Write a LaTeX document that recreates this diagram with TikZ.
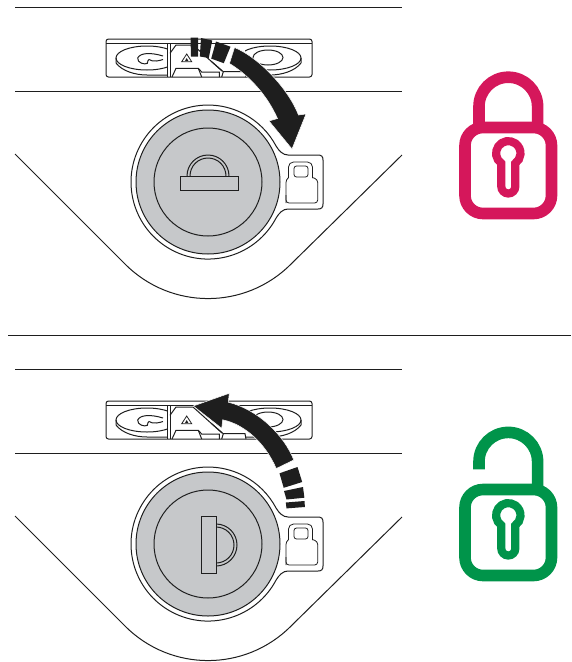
\documentclass[tikz,border=0pt]{standalone}
\usepackage{xcolor}
\definecolor{inkblack}{RGB}{30,30,30}
\definecolor{discgrey}{RGB}{198,200,202}
\definecolor{lockred}{RGB}{213,23,91}
\definecolor{lockgreen}{RGB}{0,148,74}
\tikzset{
    thinline/.style={draw=inkblack, line width=1pt},
    bigarrow/.style={fill=inkblack, draw=white, line width=0.5pt},
    lockline/.style={line width=11.6pt}
}
% plate, cap and small lock, the same in both panels
\newcommand{\switchpanel}{%
    % Frame lines
    \draw[thinline] (15,7) -- (402,7);
    \draw[thinline] (15,91) -- (402,91);

    % Plate
    \draw[thinline, rounded corners=2.5pt] (106,39) rectangle (312,77);
    \draw[thinline] (106,43.3) -- (312,43.3);

    % Left washer
    \begin{scope}
        \clip (106,44) rectangle (167.5,77);
        \draw[thinline] (147,58) ellipse (31 and 12);
        \draw[thinline] (116,58) -- (116,63) .. controls (122,71) and (135,75) .. (147,75) -- (168,75);
    \end{scope}
    \draw[thinline] (163,56) .. controls (150,52) and (140,53) .. (137.7,58)
        .. controls (137,63) and (145,65) .. (147.3,63.3)
        .. controls (148,61) and (148,59.5) .. (149,59.5)
        .. controls (153,62.5) and (160,60.5) .. (163,59.5);

    % Right washer
    \begin{scope}
        \clip (245,44) rectangle (312,77);
        \draw[thinline] (270,58) ellipse (31 and 12);
        \draw[thinline] (301,58) -- (301,63) .. controls (295,71) and (282,75) .. (270,75) -- (245,75);
        \draw[thinline] (268,57.5) ellipse (15 and 7.5);
    \end{scope}

    % Slider
    \draw[thinline] (167.5,43.3) -- (167.5,77);
    \draw[thinline] (170,43.3) -- (170,77);
    \draw[thinline] (170,53.3) -- (176,45) -- (193,45) -- (222,71);
    \draw[thinline] (172,77) -- (176,68.3) -- (198.3,68.3) -- (201.7,77);
    \draw[thinline] (198.3,68.3) -- (201.7,72) -- (219.3,72) -- (219.3,77);
    \draw[thinline] (221.7,77) -- (223.3,71.7) -- (245,71.7) -- (246,77);
    \draw[thinline] (223.3,71.7) -- (211.7,61.7);
    \draw[thinline, line width=0.8pt] (186.7,54) -- (191.7,61.7) -- (181.7,61.7) -- cycle;
    \fill[inkblack] (186.7,58) -- (188.3,60.8) -- (185.1,60.8) -- cycle;

    % Body outline
    \draw[thinline] (15,154) -- (125.3,264.3) arc (135:45:117) -- (402,155);

    % Ring with lock recess
    \draw[thinline, fill=white] (276,218.2) arc (28:332:77)
        .. controls (279,151) and (283,155) .. (288,155) -- (318,155)
        .. controls (321.5,155) and (323,156.5) .. (323,160) -- (323,204)
        .. controls (323,207.5) and (321.5,209) .. (318,209) -- (288,209)
        .. controls (283,209) and (279,213) .. (276,218.2);
    \draw[thinline, fill=discgrey] (208,182) circle (72);
    \draw[thinline] (208,182) circle (54);

    % Small lock
    \draw[thinline, line width=0.8pt, rounded corners=3pt] (286,203) -- (286,179.5) -- (288.5,177.5);
    \draw[thinline, line width=0.8pt, rounded corners=5pt] (288.5,178) -- (288.5,162) -- (312.5,162) -- (312.5,178);
    \draw[thinline, line width=0.8pt, rounded corners=3pt] (312.5,177.5) -- (317.7,179.5) -- (317.7,203) -- (286,203) -- (286,195);
    \draw[thinline, line width=0.8pt, rounded corners=2.5pt] (294,177) -- (294,166) -- (308,166) -- (308,177) -- cycle;
}
% body and keyhole of the padlock
\newcommand{\padlockbody}[1]{%
    \draw[#1, lockline, rounded corners=18pt] (465,127.5) rectangle (551.5,213.5);
    \draw[#1, line width=8.2pt] (501.3,163.3) arc (125:415:12.2)
        -- (515.3,186.5) arc (0:180:7) -- cycle;
}

\begin{document}
\begin{tikzpicture}[x=1pt, y=-1pt]
    \useasboundingbox (0,0) rectangle (571,662);

    % --- Locked (top) ---
    \switchpanel

    % Key
    \draw[thinline] (187,176) arc (180:360:21);
    \draw[thinline] (190,176) arc (180:360:18);
    \draw[thinline, fill=discgrey] (180,176) rectangle (238,190);

    % Arrow
    \fill[inkblack] (190.5,37.7) -- (198,37.7) -- (198,56.5) -- (191,56.5) -- cycle;
    \fill[inkblack] (201,38) -- (212.2,40.5) -- (208.8,58) -- (199.8,56.5) -- cycle;
    \fill[inkblack] (216,41.5) -- (230.5,46.7) -- (223.8,63.2) -- (211.2,58.6) -- cycle;
    \filldraw[bigarrow] (234.5,47.5) .. controls (258,57) and (288,88) .. (298.5,115)
        -- (306,114) -- (292,149) -- (269,121) -- (277.5,118.5)
        .. controls (267.5,96) and (250,76) .. (229.5,63.5) -- cycle;

    % Padlock
    \padlockbody{lockred}
    \draw[lockred, lockline] (479,127) -- (479,106.5) arc (180:360:29.3) -- (537.6,127);

    % Separator
    \draw[thinline] (8,335) -- (571,335);

    % --- Unlocked (bottom) ---
    \begin{scope}[shift={(0,362)}]
        \switchpanel

        % Key
        \draw[thinline] (216,162) arc (-90:90:21);
        \draw[thinline] (216,165) arc (-90:90:18);
        \draw[thinline, fill=discgrey] (201,154) rectangle (216,211);

        % Padlock
        \padlockbody{lockgreen}
        \draw[lockgreen, lockline] (479,107.3) -- (479,99.7) arc (180:360:29.3) -- (537.6,127);
    \end{scope}

    % Arrow
    \fill[inkblack] (279.5,473.3) -- (297.5,467) -- (302.2,482) -- (283.7,487.8) -- cycle;
    \fill[inkblack] (284,491) -- (303,487) -- (304.4,497.7) -- (286.5,499.5) -- cycle;
    \fill[inkblack] (285.8,502.5) -- (304.5,501) -- (304.9,507) -- (286.5,508.4) -- cycle;
    \filldraw[bigarrow] (293.8,460) .. controls (284,435) and (258,409.5) .. (228.3,402.2)
        -- (229.3,393.3) -- (193.3,406) -- (221.7,428.3) -- (222.7,419.8)
        .. controls (245,424.5) and (265.5,443.5) .. (276.2,468.5) -- cycle;
\end{tikzpicture}
\end{document}
